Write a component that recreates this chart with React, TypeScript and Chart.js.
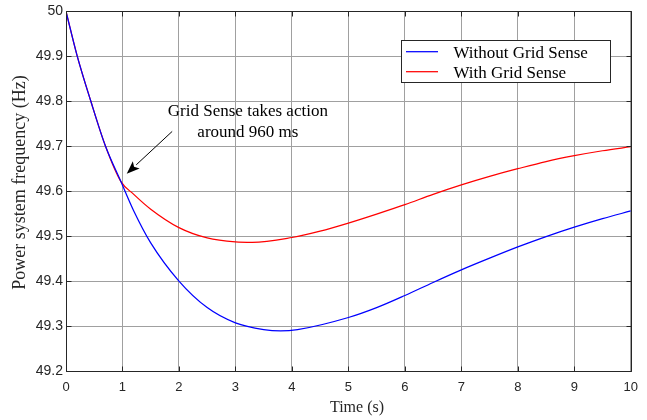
import React, { useEffect, useRef } from 'react';
import { Chart, registerables } from 'chart.js';

Chart.register(...registerables);

// ---- Data ----
const seriesLabels = ['Without Grid Sense', 'With Grid Sense'];
const seriesColors = ['#0000ff', '#ff0000'];

const timeWithout = [0, 0.2, 0.44, 0.7, 0.97, 1.2, 1.5, 2, 2.5, 3, 3.5, 3.8, 4.1, 5, 5.5, 6, 6.5, 7, 7.5, 8, 8.5, 9, 9.5, 10];
const freqWithout = [50, 49.9, 49.8, 49.7, 49.622, 49.556, 49.485, 49.4, 49.341, 49.307, 49.292, 49.289, 49.292, 49.319, 49.341, 49.368, 49.397, 49.425, 49.451, 49.476, 49.499, 49.52, 49.539, 49.556];

const timeWith = [0, 0.2, 0.44, 0.7, 0.97, 1.2, 1.5, 2, 2.5, 3, 3.3, 4, 4.5, 5, 5.5, 6, 6.5, 7, 7.5, 8, 8.5, 9, 9.5, 10];
const freqWith = [50, 49.9, 49.8, 49.7, 49.622, 49.593, 49.56, 49.519, 49.496, 49.487, 49.486, 49.497, 49.511, 49.529, 49.549, 49.57, 49.593, 49.614, 49.633, 49.65, 49.666, 49.679, 49.69, 49.699];

const xTickValues = [0, 1, 2, 3, 4, 5, 6, 7, 8, 9, 10];
const yTickValues = [49.2, 49.3, 49.4, 49.5, 49.6, 49.7, 49.8, 49.9, 50];

const xTitle = 'Time (s)';
const yTitle = 'Power system frequency (Hz)';

const annotationLines = ['Grid Sense takes action', 'around 960 ms'];
// annotation anchors in data units
const annotationTextX = 3.22;
const annotationTextY = [49.768, 49.72];
const arrowTail = { x: 1.88, y: 49.733 };
const arrowTip = { x: 1.075, y: 49.639 };

const SERIF = '"Liberation Serif", "Times New Roman", serif';
const SANS = '"Liberation Sans", Arial, sans-serif';
const DARK = '#262626';

const decorPlugin = {
  id: 'decor',
  afterDraw(chart: any) {
    const { ctx, chartArea: a, scales } = chart;
    const xs = scales.x;
    const ys = scales.y;
    ctx.save();

    // box
    const L = Math.round(a.left) + 0.5;
    const R = Math.round(a.right) + 0.5;
    const T = Math.round(a.top) + 0.5;
    const B = Math.round(a.bottom) + 0.5;
    ctx.strokeStyle = DARK;
    ctx.lineWidth = 1;
    ctx.beginPath();
    ctx.rect(L, T, R - L, B - T);
    ctx.stroke();

    // inward ticks on all four sides
    const tl = 5;
    ctx.beginPath();
    xTickValues.forEach((v) => {
      const px = Math.round(xs.getPixelForValue(v)) + 0.5;
      ctx.moveTo(px, B);
      ctx.lineTo(px, B - tl);
      ctx.moveTo(px, T);
      ctx.lineTo(px, T + tl);
    });
    yTickValues.forEach((v) => {
      const py = Math.round(ys.getPixelForValue(v)) + 0.5;
      ctx.moveTo(L, py);
      ctx.lineTo(L + tl, py);
      ctx.moveTo(R, py);
      ctx.lineTo(R - tl, py);
    });
    ctx.stroke();

    // legend
    const lx = 401.5, ly = 40.5, lw = 209, lh = 42;
    ctx.fillStyle = '#ffffff';
    ctx.fillRect(lx, ly, lw, lh);
    ctx.strokeStyle = DARK;
    ctx.strokeRect(lx, ly, lw, lh);
    chart.data.datasets.forEach((ds: any, i: number) => {
      const yy = 51.7 + i * 20;
      ctx.strokeStyle = ds.borderColor;
      ctx.lineWidth = 1.25;
      ctx.beginPath();
      ctx.moveTo(406, yy);
      ctx.lineTo(438, yy);
      ctx.stroke();
      ctx.fillStyle = '#000';
      ctx.font = `17px ${SERIF}`;
      ctx.textAlign = 'left';
      ctx.textBaseline = 'alphabetic';
      ctx.fillText(ds.label, 453.5, yy + 6.5);
    });

    // annotation text
    ctx.fillStyle = '#000';
    ctx.font = `17px ${SERIF}`;
    ctx.textAlign = 'center';
    ctx.textBaseline = 'alphabetic';
    annotationLines.forEach((t, i) => {
      ctx.fillText(t, xs.getPixelForValue(annotationTextX), ys.getPixelForValue(annotationTextY[i]));
    });

    // arrow
    const x1 = xs.getPixelForValue(arrowTail.x), y1 = ys.getPixelForValue(arrowTail.y);
    const x2 = xs.getPixelForValue(arrowTip.x), y2 = ys.getPixelForValue(arrowTip.y);
    const ang = Math.atan2(y2 - y1, x2 - x1);
    const hl = 13, hw = 5;
    const bx = x2 - hl * Math.cos(ang), by = y2 - hl * Math.sin(ang);
    ctx.strokeStyle = '#000';
    ctx.lineWidth = 1;
    ctx.beginPath();
    ctx.moveTo(x1, y1);
    ctx.lineTo(bx, by);
    ctx.stroke();
    ctx.fillStyle = '#000';
    ctx.beginPath();
    ctx.moveTo(x2, y2);
    ctx.lineTo(bx + hw * Math.sin(ang), by - hw * Math.cos(ang));
    ctx.lineTo(x2 - (hl - 3) * Math.cos(ang), y2 - (hl - 3) * Math.sin(ang));
    ctx.lineTo(bx - hw * Math.sin(ang), by + hw * Math.cos(ang));
    ctx.closePath();
    ctx.fill();

    // axis titles
    ctx.fillStyle = DARK;
    ctx.font = `16px ${SERIF}`;
    ctx.textAlign = 'center';
    ctx.textBaseline = 'alphabetic';
    ctx.fillText(xTitle, 357, 412);

    ctx.save();
    ctx.translate(24.5, 182.5);
    ctx.rotate(-Math.PI / 2);
    ctx.font = `18px ${SERIF}`;
    ctx.fillText(yTitle, 0, 0);
    ctx.restore();

    ctx.restore();
  },
};

export default function App() {
  const ref = useRef<HTMLCanvasElement | null>(null);

  useEffect(() => {
    if (!ref.current) return;
    const chart = new Chart(ref.current, {
      type: 'line',
      data: {
        datasets: [
          {
            label: seriesLabels[0],
            data: timeWithout.map((t, i) => ({ x: t, y: freqWithout[i] })),
            borderColor: seriesColors[0],
            borderWidth: 1.25,
            pointRadius: 0,
            cubicInterpolationMode: 'monotone',
            fill: false,
          },
          {
            label: seriesLabels[1],
            data: timeWith.map((t, i) => ({ x: t, y: freqWith[i] })),
            borderColor: seriesColors[1],
            borderWidth: 1.25,
            pointRadius: 0,
            cubicInterpolationMode: 'monotone',
            fill: false,
          },
        ],
      },
      options: {
        animation: false,
        responsive: false,
        devicePixelRatio: 1,
        layout: { padding: { left: 0, top: 9, right: 11, bottom: 0 } },
        plugins: { legend: { display: false }, tooltip: { enabled: false }, title: { display: false } },
        elements: { point: { radius: 0 } },
        scales: {
          x: {
            type: 'linear',
            min: 0,
            max: 10,
            afterBuildTicks: (s: any) => {
              s.ticks = xTickValues.map((v) => ({ value: v }));
            },
            afterFit: (s: any) => {
              s.height = 49;
            },
            grid: { color: '#a0a0a0', lineWidth: 1, drawTicks: false },
            border: { display: false },
            ticks: {
              padding: 9,
              autoSkip: false,
              maxRotation: 0,
              color: DARK,
              font: { family: SANS, size: 13 },
            },
          },
          y: {
            type: 'linear',
            min: 49.2,
            max: 50,
            afterBuildTicks: (s: any) => {
              s.ticks = yTickValues.map((v) => ({ value: v }));
            },
            afterFit: (s: any) => {
              s.width = 66;
            },
            grid: { color: '#a0a0a0', lineWidth: 1, drawTicks: false },
            border: { display: false },
            ticks: {
              padding: 3,
              autoSkip: false,
              color: DARK,
              font: { family: SANS, size: 14 },
              callback: (v: any) => String(Number(Number(v).toFixed(1))),
            },
          },
        },
      },
      plugins: [decorPlugin],
    } as any);
    return () => chart.destroy();
  }, []);

  return (
    <div style={{ position: 'fixed', left: 0, top: 0, width: 647, height: 420, background: '#fff' }}>
      <canvas ref={ref} width={647} height={420} style={{ display: 'block' }} />
    </div>
  );
}
